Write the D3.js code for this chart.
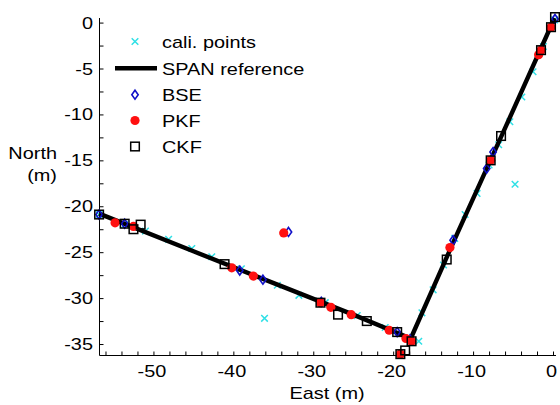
<!DOCTYPE html>
<html>
<head>
<meta charset="utf-8">
<script src="https://cdn.jsdelivr.net/npm/d3@7"></script>
<style>
  html, body { margin: 0; padding: 0; background: #fff; }
  svg { display: block; }
  text { font-family: "Liberation Sans", Arial, sans-serif; fill: #000; }
</style>
</head>
<body>
<svg id="chart" width="560" height="405"></svg>
<script>
// ---- data (East, North) in metres ----
const xTicks = [-50, -40, -30, -20, -10, 0];
const yTicks = [0, -5, -10, -15, -20, -25, -30, -35];
const legendLabels = ["cali. points", "SPAN reference", "BSE", "PKF", "CKF"];

const spanRef = [[-56.8, -20.8], [-45.0, -24.9], [-34.0, -28.7], [-25.0, -31.8], [-17.8, -34.4],
                 [-12.0, -23.0], [-6.0, -11.5], [0.2, 0.5]];

const caliPoints = [[-56.8, -20.9], [-53.6, -22.0], [-51.0, -22.7], [-48.1, -23.6], [-45.2, -24.6],
                    [-42.7, -25.5], [-39.0, -26.8], [-34.5, -28.6], [-31.8, -29.7], [-28.5, -30.5],
                    [-24.5, -31.9], [-21.0, -33.2], [-16.8, -34.7], [-16.4, -31.6], [-15.0, -29.1],
                    [-13.7, -26.4], [-12.3, -23.5], [-11.0, -20.9], [-9.5, -18.6], [-8.0, -15.5],
                    [-6.8, -13.3], [-5.4, -10.8], [-3.9, -8.1], [-2.5, -5.35], [-1.2, -2.6],
                    [0.2, 0.3], [-36.1, -32.2], [-4.75, -17.6]];

const bse = [[-56.8, -20.9], [-53.6, -21.9], [-39.2, -27.0], [-36.3, -28.0], [-33.1, -22.8],
             [-29.0, -30.4], [-19.5, -33.7], [-17.9, -34.5], [-12.5, -23.7], [-8.3, -15.9],
             [-7.5, -14.1], [0.25, 0.4]];

const pkf = [[-54.8, -21.8], [-52.5, -22.2], [-40.2, -26.7], [-37.5, -27.6], [-33.7, -22.9],
             [-29.1, -30.5], [-27.8, -31.0], [-25.25, -31.8], [-20.5, -33.5], [-18.4, -34.4],
             [-17.7, -34.7], [-19.1, -36.1], [-12.9, -24.5], [-7.8, -15.0], [-1.5, -3.0],
             [-1.8, -3.5], [-0.25, -0.5]];

const ckf = [[-56.8, -20.9], [-53.6, -21.9], [-52.5, -22.5], [-51.6, -22.0], [-41.1, -26.3],
             [-29.1, -30.5], [-26.9, -31.8], [-23.3, -32.5], [-19.5, -33.7], [-17.7, -34.7],
             [-18.5, -35.7], [-19.1, -36.1], [-13.3, -25.8], [-7.8, -15.0], [-6.5, -12.35],
             [-1.5, -3.0], [-0.25, -0.5], [0.25, 0.6]];

// ---- layout ----
const svg = d3.select("#chart");
const pLeft = 99.5, pRight = 556, pTop = 18, pBottom = 355.5;
const xs = d3.scaleLinear().domain([-56.75, 0.375]).range([pLeft, pRight]);
const ys = d3.scaleLinear().domain([-36.25, 0.5]).range([pBottom, pTop]);
const SX = 1.17, FS = 17;

const cCyan = "#2fe0e6", cBlue = "#1010c8", cRed = "#ff1010";

function label(g, str, px, py, anchor) {
  g.append("g").attr("transform", `translate(${px},${py})`)
    .append("text").attr("transform", `scale(${SX},1)`)
    .attr("text-anchor", anchor || "start")
    .style("font-size", FS + "px").text(str);
}

// axes
const gx = svg.append("g").attr("transform", `translate(0,${pBottom})`);
gx.call(d3.axisBottom(xs).tickValues(d3.range(-56, 1, 2)).tickSize(-4).tickFormat(""))
  .call(g => g.select(".domain").attr("d", `M${pLeft},0H${pRight}`));
const gy = svg.append("g").attr("transform", `translate(${pLeft},0)`);
gy.call(d3.axisLeft(ys).tickValues(d3.range(0, -36.1, -2.5)).tickSize(-4).tickFormat(""))
  .call(g => g.select(".domain").attr("d", `M0,${pTop}V${pBottom}`));
svg.selectAll(".tick line").attr("stroke", "#000");
svg.selectAll(".domain").attr("stroke", "#000");

xTicks.forEach(v => label(svg, String(v), xs(v) - 1.5, 376.5, "middle"));
yTicks.forEach(v => label(svg, String(v), 93, ys(v) + 6, "end"));
label(svg, "East (m)", 327, 399, "middle");
label(svg, "North", 57, 159, "end");
label(svg, "(m)", 57, 181, "end");

// marks
const plot = svg.append("g");
const line = d3.line().x(d => xs(d[0])).y(d => ys(d[1]));

function drawX(g, cx, cy, r, color) {
  g.append("path").attr("d", `M${cx - r},${cy - r}L${cx + r},${cy + r}M${cx - r},${cy + r}L${cx + r},${cy - r}`)
    .attr("stroke", color).attr("stroke-width", 1.5).attr("fill", "none");
}
function drawDiamond(g, cx, cy, color) {
  g.append("path").attr("d", `M${cx},${cy - 4.5}L${cx + 3.2},${cy}L${cx},${cy + 4.5}L${cx - 3.2},${cy}Z`)
    .attr("stroke", color).attr("stroke-width", 1.6).attr("fill", "none");
}
function drawCircle(g, cx, cy, color) {
  g.append("circle").attr("cx", cx).attr("cy", cy).attr("r", 4.6).attr("fill", color);
}
function drawSquare(g, cx, cy) {
  g.append("rect").attr("x", cx - 4.3).attr("y", cy - 4.3).attr("width", 8.6).attr("height", 8.6)
    .attr("fill", "none").attr("stroke", "#000").attr("stroke-width", 1.5);
}

caliPoints.forEach(d => drawX(plot, xs(d[0]), ys(d[1]), 3.3, cCyan));
plot.append("path").datum(spanRef).attr("d", line)
  .attr("fill", "none").attr("stroke", "#000").attr("stroke-width", 4.4).attr("stroke-linejoin", "round");
bse.forEach(d => drawDiamond(plot, xs(d[0]), ys(d[1]), cBlue));
pkf.forEach(d => drawCircle(plot, xs(d[0]), ys(d[1]), cRed));
ckf.forEach(d => drawSquare(plot, xs(d[0]), ys(d[1])));

// legend
const lg = svg.append("g");
const rowY = [41.5, 68.3, 94.7, 120.5, 146.5];
drawX(lg, 135, rowY[0], 3.3, cCyan);
lg.append("line").attr("x1", 115).attr("x2", 157).attr("y1", rowY[1]).attr("y2", rowY[1])
  .attr("stroke", "#000").attr("stroke-width", 4.4);
drawDiamond(lg, 135, rowY[2], cBlue);
drawCircle(lg, 135, rowY[3], cRed);
drawSquare(lg, 135, rowY[4]);
legendLabels.forEach((t, i) => label(lg, t, 162, rowY[i] + 6.3, "start"));
</script>
</body>
</html>
